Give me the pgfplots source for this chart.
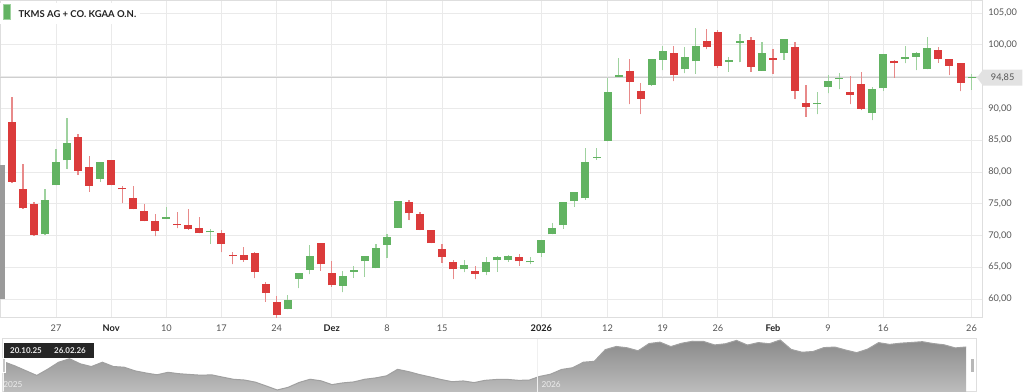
\documentclass[border=0pt]{standalone}
\usepackage{fontspec}
\setmainfont{Lato}
\usepackage{pgfplots}
\pgfplotsset{compat=1.18}
\usepackage{pgfplotstable}

\definecolor{upc}{HTML}{62B362}
\definecolor{dnc}{HTML}{DB3B3B}
\definecolor{upw}{HTML}{9FD29F}
\definecolor{dnw}{HTML}{E88A8A}
\definecolor{gridc}{HTML}{EAEAEA}
\definecolor{axisc}{HTML}{DEDEDE}
\definecolor{tickc}{HTML}{555555}
\definecolor{labd}{HTML}{222222}
\definecolor{pricel}{HTML}{CFCFCF}
\definecolor{tagc}{HTML}{E2E2E2}
\definecolor{navtop}{HTML}{8A8A8A}
\definecolor{navbot}{HTML}{BDBDBD}
\definecolor{navline}{HTML}{A0A0A0}
\definecolor{firstc}{HTML}{9A9A9A}

\pgfplotsset{candle/.style={only marks, mark=*, mark size=0pt, mark options={draw=none, fill=none}, forget plot,
  error bars/.cd, y dir=plus, y explicit, error mark=none}}

% green (rising) candles: index, open, high, low, close
\pgfplotstableread{
i o h l c
4 70.18 77.3 70.1 75.54
5 77.9 83.57 77.9 81.63
6 81.84 88.56 80.47 84.62
9 78.9 81.63 78.48 81.63
15 72.6 74.49 72.6 72.86
19 70.5 70.97 68.71 70.65
26 58.42 60.68 58.42 59.84
27 63.2 64.04 61.73 64.04
28 64.57 68.45 63.88 66.82
31 62.1 64.46 61.05 63.67
32 64.3 65.2 63.36 64.5
33 65.93 66.82 63.52 66.82
34 64.83 68.61 64.83 67.98
35 68.5 70.18 66.51 69.81
36 71.23 75.43 71.23 75.43
42 64.67 66.14 64.25 65.35
44 64.2 66.67 63.78 65.88
45 66.09 66.77 64.3 66.61
46 66.14 66.93 65.88 66.72
48 65.77 66.56 65.51 65.98
49 67.3 69.29 66.67 69.29
50 70.18 71.92 70.18 71.23
51 71.65 75.33 71.08 75.33
52 75.43 76.8 74.54 76.8
53 75.85 83.73 75.6 81.63
54 82.2 83.73 81.9 82.4
55 84.88 94.75 84.88 92.55
56 95.0 97.9 95.0 95.31
59 93.7 97.85 93.6 97.85
60 97.69 99.9 96.06 99.06
62 96.17 99.69 95.54 98.16
63 97.43 102.73 95.49 99.85
66 97.38 98.06 95.8 97.69
67 100.32 101.68 97.27 100.58
69 95.91 100.42 95.91 98.69
71 98.79 100.94 97.64 100.94
74 90.71 92.65 89.08 90.92
75 93.44 95.28 92.39 94.33
76 94.59 95.54 93.02 94.8
79 89.34 93.33 88.18 93.02
80 93.18 98.64 92.76 98.64
82 97.8 99.9 97.11 98.16
83 98.16 98.9 96.06 98.79
84 96.17 101.21 96.17 99.48
88 94.8 95.49 92.92 94.85
}\upT

% red (falling) candles
\pgfplotstableread{
i o h l c
1 87.82 91.86 78.3 78.43
2 77.32 81.26 74.2 74.28
3 74.9 75.2 70.0 70.13
7 85.56 85.93 79.53 80.16
8 80.84 82.52 76.9 77.85
10 81.94 81.94 77.9 77.9
11 77.43 77.85 75.07 77.27
12 75.9 77.85 74.12 74.12
13 73.86 74.9 72.23 72.23
14 72.23 73.33 69.87 70.7
16 71.86 73.7 71.13 71.65
17 71.65 74.23 70.9 70.97
18 71.18 72.86 70.34 70.34
20 70.45 70.87 67.4 68.66
21 66.93 67.35 65.46 66.77
22 66.93 68.19 65.88 66.14
23 67.3 67.45 63.25 64.3
24 62.36 62.73 59.58 60.94
25 59.58 60.52 56.8 57.48
29 68.77 68.87 64.46 65.46
30 64.15 66.04 61.94 62.15
37 75.22 75.54 72.44 73.49
38 73.33 73.65 70.81 70.92
39 70.81 70.81 68.81 68.81
40 67.82 68.61 65.72 66.56
41 65.88 66.14 63.15 64.67
43 64.46 65.14 63.1 63.93
47 66.61 67.03 65.2 65.93
57 95.91 97.8 90.66 94.17
58 92.8 93.96 89.13 91.55
61 98.74 99.9 94.28 95.22
64 100.69 102.47 99.32 99.64
65 102.05 102.36 96.38 96.64
68 100.79 101.21 95.75 96.54
70 97.9 99.32 95.49 97.69
72 99.69 100.52 91.45 92.76
73 90.81 93.7 88.71 90.29
77 92.65 95.17 90.66 92.18
78 93.86 95.75 89.76 89.92
81 97.43 97.69 94.86 97.11
85 99.16 99.64 97.17 97.85
86 97.8 97.8 95.23 96.75
87 97.11 97.11 92.71 94.07
}\dnT

% first (clipped) candle, shown grey
\pgfplotstableread{
i o c
0 60.0 81.1
}\firstT

% closes for the navigator
\pgfplotstableread{
i c
0 82.0
1 78.43
2 74.28
3 70.13
4 75.54
5 81.63
6 84.62
7 80.16
8 77.85
9 81.63
10 77.9
11 77.27
12 74.12
13 72.23
14 70.7
15 72.86
16 71.65
17 70.97
18 70.34
19 70.65
20 68.66
21 66.77
22 66.14
23 64.3
24 60.94
25 57.48
26 59.84
27 64.04
28 66.82
29 65.46
30 62.15
31 63.67
32 64.5
33 66.82
34 67.98
35 69.81
36 75.43
37 73.49
38 70.92
39 68.81
40 66.56
41 64.67
42 65.35
43 63.93
44 65.88
45 66.61
46 66.72
47 65.93
48 65.98
49 69.29
50 71.23
51 75.33
52 76.8
53 81.63
54 82.4
55 92.55
56 95.31
57 94.17
58 91.55
59 97.85
60 99.06
61 95.22
62 98.16
63 99.85
64 99.64
65 96.64
66 97.69
67 100.58
68 96.54
69 98.69
70 97.69
71 100.94
72 92.76
73 90.29
74 90.92
75 94.33
76 94.8
77 92.18
78 89.92
79 93.02
80 98.64
81 97.11
82 98.16
83 98.79
84 99.48
85 97.85
86 96.75
87 94.07
88 94.85
}\closeT

\begin{document}
\begin{tikzpicture}
\path[use as bounding box] (0,0) rectangle (768pt,294pt);

\begin{axis}[
  name=main,
  at={(0pt,55.5pt)}, anchor=south west,
  scale only axis, width=736.5pt, height=237.75pt,
  xmin=-0.08, xmax=88.95, ymin=57.01, ymax=106.93,
  axis line style={draw=axisc, line width=0.75pt},
  xtick={5,10,15,20,25,30,35,40,49,55,60,65,70,75,80,88},
  xticklabels={27,{\bfseries\color{labd}Nov},10,17,24,{\bfseries\color{labd}Dez},8,15,{\bfseries\color{labd}2026},12,19,26,{\bfseries\color{labd}Feb},9,16,26},
  ytick={60,65,70,75,80,85,90,95,100,105},
  yticklabels={{60,00},{65,00},{70,00},{75,00},{80,00},{85,00},{90,00},{},{100,00},{105,00}},
  yticklabel pos=right,
  major tick length=0pt,
  grid=major,
  major grid style={draw=gridc, line width=0.75pt},
  tick label style={font=\fontsize{6.9pt}{8pt}\selectfont, text=tickc},
  xticklabel style={anchor=base, yshift=-10.5pt, inner sep=0pt},
  yticklabel style={anchor=west, xshift=4.5pt, inner sep=0pt},
  clip=true,
]
% current price line
\addplot[draw=pricel, line width=1.2pt, forget plot] coordinates {(-0.08,94.85) (88.95,94.85)};

% wicks
\addplot[candle, error bar style={draw=upw, line width=0.9pt}]
  table[x=i, y=l, y error expr={\thisrow{h}-\thisrow{l}}] {\upT};
\addplot[candle, error bar style={draw=dnw, line width=0.9pt}]
  table[x=i, y=l, y error expr={\thisrow{h}-\thisrow{l}}] {\dnT};

% bodies
\addplot[candle, error bar style={draw=upc, line width=6pt}]
  table[x=i, y=o, y error expr={max(\thisrow{c}-\thisrow{o},0.22)}] {\upT};
\addplot[candle, error bar style={draw=dnc, line width=6pt}]
  table[x=i, y=c, y error expr={max(\thisrow{o}-\thisrow{c},0.22)}] {\dnT};
\addplot[candle, error bar style={draw=firstc, line width=6pt}]
  table[x=i, y=o, y error expr={\thisrow{c}-\thisrow{o}}] {\firstT};

\coordinate (pricept) at (axis cs:88.95,94.85);
\end{axis}

% price tag
\fill[tagc] ([xshift=-3.75pt]pricept) -- ++(4.5pt,6pt) -- ++(29.5pt,0) -- ++(0,-12pt) -- ++(-29.5pt,0) -- cycle;
\node[anchor=center, inner sep=0pt, text=tickc, font=\fontsize{6.9pt}{8pt}\selectfont] at ([xshift=15.5pt]pricept) {94,85};

% title
\fill[white] (0,276pt) rectangle (105pt,292pt);
\filldraw[fill=upc, draw=upw, line width=0.6pt] (2.6pt,279.3pt) rectangle (8pt,291pt);
\node[anchor=base west, inner sep=0pt, text=labd, font=\bfseries\fontsize{7.1pt}{8.5pt}\selectfont] at (13.7pt,280.5pt) {TKMS AG + CO. KGAA O.N.};

% navigator (closes shifted so that the axis bottom is 55.74)
\begin{axis}[
  name=nav,
  at={(1.5pt,0pt)}, anchor=south west,
  scale only axis, width=730.5pt, height=39.75pt,
  xmin=-0.18, xmax=88.91, ymin=0, ymax=46.06,
  axis line style={draw=axisc, line width=0.75pt},
  xtick=\empty, ytick=\empty, clip=true,
]
\addplot[top color=navtop, bottom color=navbot, draw=none, forget plot] table[x=i, y expr=\thisrow{c}-55.74] {\closeT} \closedcycle;
\addplot[draw=navline, line width=0.75pt, forget plot] table[x=i, y expr=\thisrow{c}-55.74] {\closeT};
\addplot[draw=white!88!gray, line width=0.75pt, forget plot] coordinates {(48.8,0) (48.8,46.06)};
\end{axis}

% navigator labels and handles
\node[anchor=south west, inner sep=0pt, text=white!85!gray, font=\fontsize{6.2pt}{7pt}\selectfont] at (2.3pt,3pt) {2025};
\node[anchor=south west, inner sep=0pt, text=white!85!gray, font=\fontsize{6.2pt}{7pt}\selectfont] at (406pt,3pt) {2026};
\filldraw[fill=black!28, draw=white, line width=0.4pt] (727.5pt,15pt) rectangle (730.5pt,25.5pt);
\filldraw[fill=black!22, draw=white, line width=0.4pt] (1.5pt,14.5pt) rectangle (3.9pt,25.5pt);

% date range box
\fill[black!85] (3pt,25.5pt) rectangle (70.5pt,36.75pt);
\node[text=white!92!black, inner sep=0pt, font=\bfseries\fontsize{6pt}{7pt}\selectfont] at (19.5pt,31.1pt) {20.10.25};
\node[text=white!92!black, inner sep=0pt, font=\bfseries\fontsize{6pt}{7pt}\selectfont] at (52.5pt,31.1pt) {26.02.26};

\end{tikzpicture}
\end{document}
